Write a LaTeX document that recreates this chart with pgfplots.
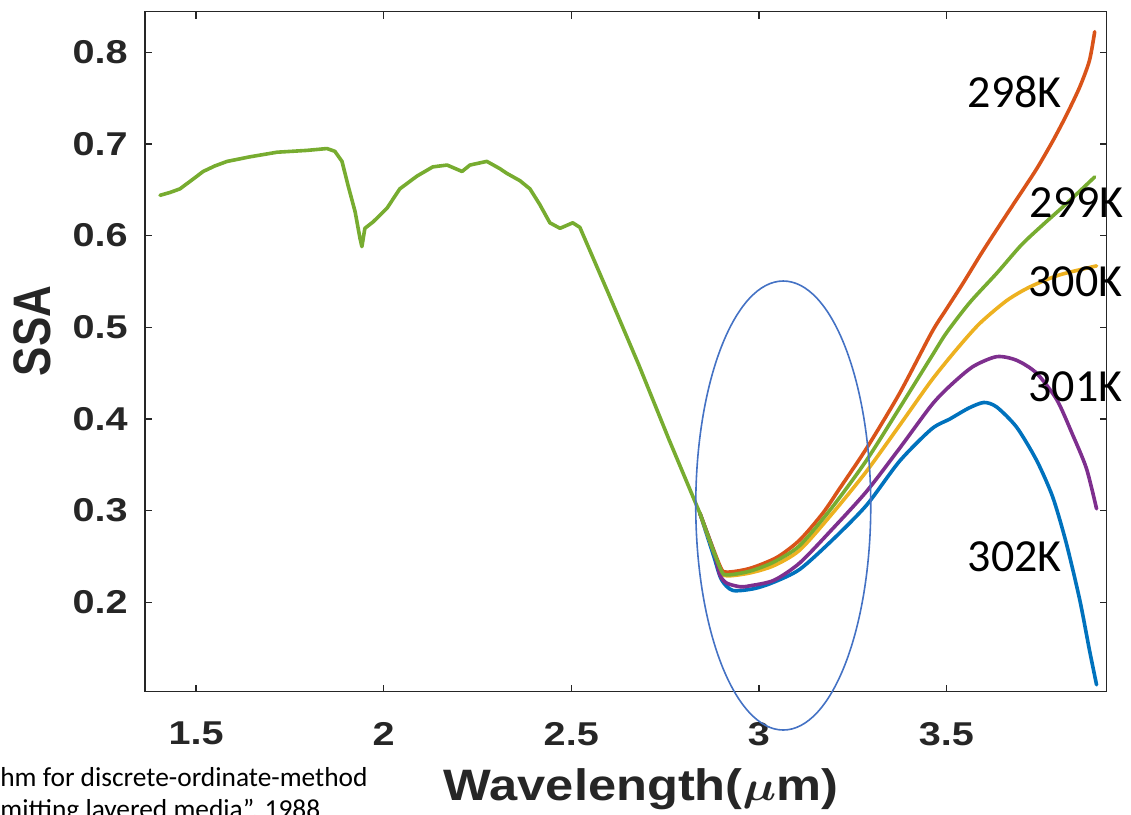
\documentclass[border=0pt]{standalone}
\usepackage{fontspec}
\setmainfont{Liberation Sans}
\newfontfamily\calibri{Carlito}
\usepackage{graphicx}
\usepackage{pgfplots}
\usepackage{pgfplotstable}
\pgfplotsset{compat=1.18}
\definecolor{c302}{HTML}{0072BD}
\definecolor{c298}{HTML}{D95319}
\definecolor{c300}{HTML}{EDB120}
\definecolor{c301}{HTML}{7E2F8E}
\definecolor{c299}{HTML}{77AC30}
\definecolor{axgray}{HTML}{262626}
\definecolor{ellblue}{HTML}{4472C4}
\newcommand{\sx}[1]{\scalebox{1.2}[1]{#1}}

% common part of all five curves
\pgfplotstableread{
w v
1.404 0.644
1.430 0.647
1.457 0.651
1.490 0.661
1.519 0.670
1.550 0.676
1.583 0.681
1.644 0.686
1.716 0.691
1.796 0.693
1.849 0.695
1.870 0.692
1.889 0.681
1.905 0.655
1.924 0.626
1.937 0.597
1.942 0.588
1.950 0.608
1.972 0.615
2.009 0.630
2.043 0.651
2.089 0.665
2.131 0.675
2.169 0.677
2.209 0.670
2.230 0.677
2.275 0.681
2.310 0.673
2.328 0.668
2.363 0.660
2.390 0.651
2.416 0.634
2.443 0.614
2.470 0.608
2.504 0.614
2.523 0.609
2.600 0.536
2.680 0.459
2.760 0.378
2.843 0.297
}\common

\pgfplotstableread{
w v
2.843 0.297
2.880 0.250
2.900 0.225
2.930 0.213
2.988 0.215
3.040 0.222
3.109 0.236
3.196 0.268
3.287 0.306
3.375 0.354
3.460 0.389
3.509 0.400
3.560 0.412
3.600 0.418
3.634 0.413
3.687 0.391
3.740 0.355
3.783 0.315
3.819 0.265
3.855 0.203
3.881 0.148
3.900 0.110
}\kCCCII

\pgfplotstableread{
w v
2.843 0.297
2.896 0.240
2.914 0.233
2.976 0.237
3.048 0.249
3.109 0.268
3.170 0.297
3.215 0.324
3.287 0.368
3.375 0.428
3.460 0.494
3.500 0.520
3.544 0.548
3.592 0.580
3.633 0.606
3.686 0.639
3.739 0.672
3.783 0.703
3.819 0.731
3.855 0.762
3.881 0.791
3.895 0.8225
}\kCCXCVIII

\pgfplotstableread{
w v
2.843 0.297
2.896 0.237
2.914 0.229
2.976 0.232
3.040 0.240
3.109 0.257
3.196 0.297
3.287 0.343
3.375 0.393
3.460 0.442
3.527 0.476
3.588 0.504
3.660 0.529
3.722 0.544
3.800 0.557
3.900 0.567
}\kCCC

\pgfplotstableread{
w v
2.843 0.297
2.880 0.255
2.896 0.230
2.914 0.221
2.950 0.217
2.976 0.218
3.040 0.224
3.109 0.243
3.196 0.280
3.287 0.321
3.375 0.368
3.460 0.415
3.509 0.436
3.570 0.457
3.634 0.468
3.687 0.464
3.740 0.450
3.794 0.421
3.836 0.383
3.873 0.346
3.900 0.302
}\kCCCI

\pgfplotstableread{
w v
2.843 0.297
2.896 0.238
2.914 0.230
2.976 0.234
3.040 0.244
3.109 0.262
3.196 0.304
3.287 0.355
3.375 0.412
3.460 0.468
3.500 0.494
3.562 0.527
3.634 0.559
3.700 0.590
3.760 0.613
3.820 0.635
3.895 0.664
}\kCCXCIX

\begin{document}
\begin{tikzpicture}
\begin{axis}[
  at={(72.5bp,61.65bp)}, anchor=south west,
  scale only axis, width=480.85bp, height=340bp,
  xmin=1.364, xmax=3.927, ymin=0.1025, ymax=0.8443,
  xtick={1.5,2,2.5,3,3.5},
  xticklabels={\sx{1.5},\sx{2},\sx{2.5},\sx{3},\sx{3.5}},
  ytick={0.2,0.3,0.4,0.5,0.6,0.7,0.8},
  yticklabels={\sx{0.2},\sx{0.3},\sx{0.4},\sx{0.5},\sx{0.6},\sx{0.7},\sx{0.8}},
  tick label style={font=\bfseries\fontsize{16.5bp}{16.5bp}\selectfont, text=axgray, inner sep=0pt},
  xticklabel style={anchor=north, yshift=-15bp},
  yticklabel style={anchor=east, xshift=-8.5bp},
  axis line style={axgray, line width=0.75bp},
  major tick style={axgray, line width=0.75bp},
  major tick length=3.5bp,
  tick align=inside,
  xlabel={\scalebox{1.15}[1]{Wavelength(\boldmath$\mu$m)}},
  xlabel style={font=\bfseries\fontsize{22bp}{22bp}\selectfont, text=axgray, inner sep=0pt,
    at={(axis description cs:0.5157,-0.1593)}, anchor=base},
  ylabel={\scalebox{1}[1.2]{SSA}},
  ylabel style={font=\bfseries\fontsize{22bp}{22bp}\selectfont, text=axgray, inner sep=0pt,
    at={(axis description cs:-0.1175,0.5304)}, anchor=center},
  clip mode=individual,
  every axis plot/.append style={line width=1.8bp, line join=round, line cap=round},
]
\addplot[c302, smooth, tension=0.45] table {\kCCCII};
\addplot[c298, smooth, tension=0.45] table {\kCCXCVIII};
\addplot[c300, smooth, tension=0.45] table {\kCCC};
\addplot[c301, smooth, tension=0.45] table {\kCCCI};
\addplot[c299, smooth, tension=0.45] table {\kCCXCIX};
\addplot[c299] table {\common};

\draw[ellblue, line width=0.8bp] (axis cs:3.065,0.3056) ellipse [x radius=43.75bp, y radius=112.25bp];

\begin{scope}[every node/.style={font=\calibri\fontsize{23bp}{23bp}\selectfont, inner sep=0pt}]
\node at (axis cs:3.682,0.757) {298K};
\node at (axis cs:3.847,0.636) {299K};
\node at (axis cs:3.844,0.550) {300K};
\node at (axis cs:3.844,0.435) {301K};
\node at (axis cs:3.682,0.250) {302K};
\end{scope}
\end{axis}
\node[anchor=base east, inner sep=0pt, font=\calibri\fontsize{13.7bp}{13.7bp}\selectfont] at (184bp,14.25bp) {hm for discrete-ordinate-method};
\node[anchor=base west, inner sep=0pt, font=\calibri\fontsize{13.7bp}{13.7bp}\selectfont] at (0bp,-1.5bp) {mitting layered media”, 1988};
\pgfresetboundingbox
\useasboundingbox (0,0) rectangle (565.5bp,407.5bp);
\end{tikzpicture}
\end{document}
